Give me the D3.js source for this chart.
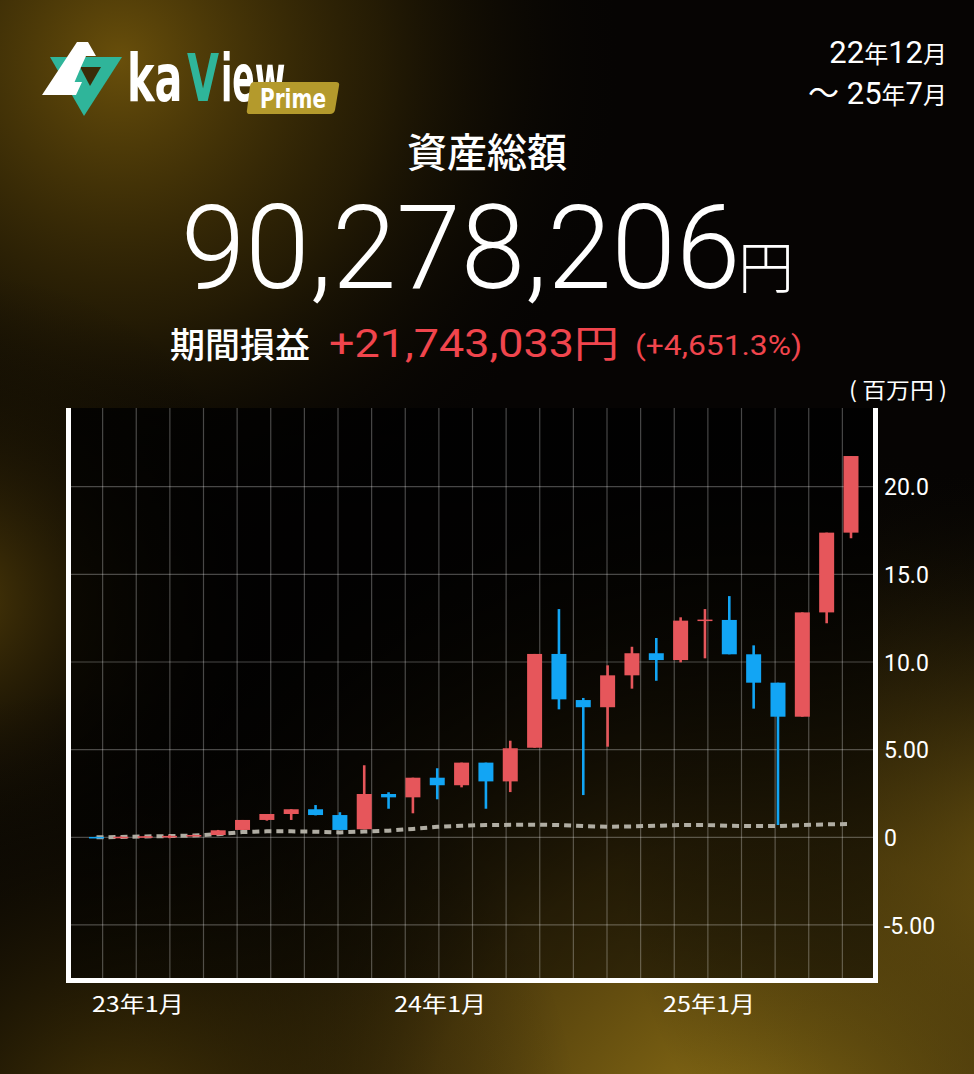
<!DOCTYPE html>
<html><head><meta charset="utf-8">
<script src="https://cdn.jsdelivr.net/npm/d3@7"></script>
<style>
html,body{margin:0;padding:0;background:#050403;}
svg{display:block;}
</style></head>
<body>
<svg id="chart" width="974" height="1074"></svg>
<script>
// ---- data ----
const months = ["22年12月","23年1月","23年2月","23年3月","23年4月","23年5月","23年6月","23年7月","23年8月","23年9月","23年10月","23年11月","23年12月",
  "24年1月","24年2月","24年3月","24年4月","24年5月","24年6月","24年7月","24年8月","24年9月","24年10月","24年11月","24年12月",
  "25年1月","25年2月","25年3月","25年4月","25年5月","25年6月","25年7月"];
const openVals  = [0.02,0.00,0.03,0.06,0.10,0.13,0.42,0.99,1.33,1.60,1.27,0.46,2.47,2.28,3.40,2.97,4.26,3.19,5.11,10.46,7.83,7.42,9.24,10.50,10.11,12.36,12.40,10.44,8.82,6.88,12.83,17.38];
const highVals  = [0.03,0.04,0.07,0.12,0.15,0.42,0.99,1.33,1.60,1.84,1.43,4.11,2.57,3.40,3.94,4.26,4.26,5.51,10.46,13.02,7.95,9.81,10.87,11.37,12.55,13.02,13.76,10.95,8.82,12.83,17.38,21.75];
const lowVals   = [-0.01,0.00,0.02,-0.05,0.08,0.12,0.42,0.95,0.99,1.25,0.42,0.46,1.63,1.37,2.17,2.85,1.63,2.58,5.11,7.30,2.41,5.17,8.48,8.93,9.98,10.21,10.44,7.34,0.70,6.88,12.21,17.06];
const closeVals = [0.00,0.03,0.06,0.08,0.13,0.40,0.99,1.33,1.60,1.27,0.42,2.47,2.28,3.40,2.97,4.26,3.19,5.08,10.46,7.87,7.42,9.24,10.50,10.11,12.36,12.42,10.44,8.82,6.88,12.83,17.38,21.75];
const depositVals = [0.00,0.02,0.05,0.07,0.10,0.18,0.30,0.34,0.34,0.32,0.28,0.33,0.38,0.48,0.60,0.66,0.70,0.71,0.72,0.70,0.64,0.60,0.62,0.66,0.70,0.70,0.66,0.64,0.64,0.70,0.74,0.76];
const yTickValues = [-5,0,5,10,15,20];
const yTickLabels = ["-5.00","0","5.00","10.0","15.0","20.0"];
const xTickLabels = ["23年1月","24年1月","25年1月"];
const xTickAt = [1.68,14.1,25.15];
const gridColumns = 24;

const totalAsset = "90,278,206";
const profit = "+21,743,033";
const profitPct = "(+4,651.3%)";

// ---- layout ----
const svg = d3.select("#chart");
const W = 974, H = 1074;
const plot = {l:69, r:876, t:408, b:980};

const defs = svg.append("defs");
function radial(id, cx, cy, r, stops){
  const g = defs.append("radialGradient").attr("id",id).attr("gradientUnits","userSpaceOnUse")
    .attr("cx",cx).attr("cy",cy).attr("r",r);
  stops.forEach(s=>g.append("stop").attr("offset",s[0]).attr("stop-color",s[1]).attr("stop-opacity",s[2]));
}
radial("g1",120,60,520,[[0,"#7a5c0c",0.85],[0.5,"#4a3806",0.45],[1,"#000",0]]);
radial("g2",760,1180,760,[[0,"#a08018",0.95],[0.45,"#6e5410",0.7],[1,"#000",0]]);
radial("g3",-40,600,330,[[0,"#6a500a",0.7],[1,"#000",0]]);
radial("g4",1040,860,420,[[0,"#7a6012",0.75],[1,"#000",0]]);
radial("g5",120,1140,460,[[0,"#5a4408",0.8],[1,"#000",0]]);
const lg = defs.append("linearGradient").attr("id","plotbg").attr("x1",0).attr("y1",0).attr("x2",0).attr("y2",1);
lg.append("stop").attr("offset",0).attr("stop-color","#000").attr("stop-opacity",0.8);
lg.append("stop").attr("offset",1).attr("stop-color","#000").attr("stop-opacity",0.5);

svg.append("rect").attr("width",W).attr("height",H).attr("fill","#060403");
["g1","g2","g3","g4","g5"].forEach(id=>svg.append("rect").attr("width",W).attr("height",H).attr("fill",`url(#${id})`));

// ---- logo ----
const logo = svg.append("g");
logo.append("polygon").attr("points","50,57 122,57 84,116").attr("fill","#2fb59a");
logo.append("polygon").attr("points","80,67 101,67 90,86").attr("fill","#3a2c07");
logo.append("polygon").attr("points","77,42 88,42 96,56 86,56 81,67 69,95 42,95").attr("fill","#ffffff");
logo.append("polygon").attr("points","55,95 76,95 82,82 69,82").attr("fill","#ffffff");
function logoText(t, xPos, sx, fill){
  logo.append("text").attr("transform",`translate(${xPos},101) scale(${sx},1.45)`)
    .attr("font-family","'DejaVu Sans'").attr("font-stretch","condensed").attr("font-weight","bold")
    .attr("font-size",46).attr("fill",fill).text(t);
}
logoText("ka",127,1.0,"#fff");
logoText("V",187,1.0,"#2fb59a");
logoText("iew",221,0.8,"#fff");
logo.append("path").attr("d","M254,82 L336,82 Q340,82 339,86 L335,110 Q334,114 330,114 L250,114 Q246,114 247,110 L250,86 Q251,82 254,82 Z").attr("fill","#b49a2c");
logo.append("text").attr("x",293).attr("y",108).attr("text-anchor","middle").attr("font-family","'DejaVu Sans'")
  .attr("font-stretch","condensed").attr("font-weight","bold").attr("font-size",26).attr("fill","#fff")
  .attr("textLength",66).attr("lengthAdjust","spacingAndGlyphs").text("Prime");

// ---- date range ----
const dateG = svg.append("g").attr("font-family","Roboto, 'Noto Sans CJK JP'").attr("fill","#fff").attr("text-anchor","end");
dateG.append("text").attr("x",947).attr("y",63).attr("font-size",31)
  .html('22<tspan font-size="24">年</tspan>12<tspan font-size="24">月</tspan>');
dateG.append("text").attr("x",947).attr("y",104).attr("font-size",31)
  .html('～ 25<tspan font-size="24">年</tspan>7<tspan font-size="24">月</tspan>');

// ---- headline ----
svg.append("text").attr("x",487).attr("y",167).attr("text-anchor","middle").attr("font-family","'Noto Sans CJK JP'")
  .attr("font-weight",500).attr("font-size",40).attr("fill","#fff").text("資産総額");
svg.append("text").attr("transform","translate(181,288) scale(1,1.01)").attr("font-family","Roboto").attr("font-weight",300)
  .attr("font-size",116).attr("fill","#fff").text(totalAsset);
svg.append("text").attr("x",738).attr("y",288).attr("font-family","'Noto Sans CJK JP'").attr("font-weight",300)
  .attr("font-size",56).attr("fill","#fff").text("円");

svg.append("text").attr("x",170).attr("y",358).attr("font-family","'Noto Sans CJK JP'").attr("font-weight",500)
  .attr("font-size",35).attr("fill","#fff").text("期間損益");
svg.append("text").attr("x",329).attr("y",357).attr("font-family","Roboto, 'Noto Sans CJK JP'").attr("font-weight",400)
  .attr("font-size",38).attr("fill","#f0454d").attr("textLength",290).attr("lengthAdjust","spacingAndGlyphs").text(profit+"円");
svg.append("text").attr("x",635).attr("y",355).attr("font-family","Roboto").attr("font-weight",400)
  .attr("font-size",28).attr("fill","#f0454d").attr("textLength",167).attr("lengthAdjust","spacingAndGlyphs").text(profitPct);

svg.append("text").attr("x",947).attr("y",398).attr("text-anchor","end").attr("font-family","'Noto Sans CJK JP'")
  .attr("font-size",22).attr("fill","#fff").attr("textLength",98).attr("lengthAdjust","spacingAndGlyphs").text("( 百万円 )");

// ---- chart ----
svg.append("rect").attr("x",plot.l).attr("y",plot.t).attr("width",plot.r-plot.l).attr("height",plot.b-plot.t).attr("fill","url(#plotbg)");

const y = d3.scaleLinear().domain([-8.14,24.49]).range([plot.b,plot.t]);
const x = d3.scaleLinear().domain([0,months.length-1]).range([96.5,851]);
const gx = d3.scaleLinear().domain([0,gridColumns]).range([plot.l,plot.r]);

const grid = svg.append("g").attr("stroke","#ffffff").attr("stroke-opacity",0.28).attr("stroke-width",1.2);
grid.selectAll("line.v").data(d3.range(1,gridColumns)).join("line").attr("class","v")
  .attr("x1",d=>gx(d)).attr("x2",d=>gx(d)).attr("y1",plot.t).attr("y2",plot.b);
grid.selectAll("line.h").data(yTickValues).join("line").attr("class","h")
  .attr("x1",plot.l).attr("x2",plot.r).attr("y1",d=>y(d)).attr("y2",d=>y(d));

const data = months.map((m,i)=>({m,i,o:openVals[i],h:highVals[i],l:lowVals[i],c:closeVals[i],dep:depositVals[i]}));
const RED="#e6565b", BLUE="#12a5f4";

// deposit dashed line
svg.append("path").datum(data).attr("fill","none").attr("stroke","#b0ada3").attr("stroke-width",4)
  .attr("stroke-dasharray","7,5")
  .attr("d",d3.line().x(d=>x(d.i)).y(d=>y(d.dep)));

const cg = svg.append("g").selectAll("g").data(data).join("g");
cg.append("line").attr("x1",d=>x(d.i)).attr("x2",d=>x(d.i)).attr("y1",d=>y(d.h)).attr("y2",d=>y(d.l))
  .attr("stroke",d=>d.c>=d.o?RED:BLUE).attr("stroke-width",2.6);
cg.append("rect").attr("x",d=>x(d.i)-7.5).attr("width",15)
  .attr("y",d=>y(Math.max(d.o,d.c)))
  .attr("height",d=>Math.max(1.5,Math.abs(y(d.o)-y(d.c))))
  .attr("fill",d=>d.c>=d.o?RED:BLUE);

// axes frame
const frame = svg.append("g").attr("stroke","#fff").attr("stroke-width",5);
frame.append("line").attr("x1",plot.l-0.5).attr("x2",plot.l-0.5).attr("y1",plot.t).attr("y2",plot.b+3);
frame.append("line").attr("x1",plot.r-0.5).attr("x2",plot.r-0.5).attr("y1",plot.t).attr("y2",plot.b+3);
frame.append("line").attr("x1",plot.l-3).attr("x2",plot.r+2).attr("y1",plot.b+0.5).attr("y2",plot.b+0.5);

// y axis labels
const yAxis = d3.axisRight(y).tickValues(yTickValues).tickSize(0).tickPadding(0)
  .tickFormat((d,i)=>yTickLabels[i]);
const ya = svg.append("g").attr("transform",`translate(${plot.r+8},0)`).call(yAxis);
ya.select(".domain").remove();
ya.selectAll("text").attr("fill","#fff").attr("font-family","Roboto").attr("font-size",23).attr("dy","0.36em");

// x axis labels
const xAxis = d3.axisBottom(x).tickValues(xTickAt).tickSize(0).tickPadding(0)
  .tickFormat((d,i)=>xTickLabels[i]);
const xa = svg.append("g").attr("transform",`translate(0,${plot.b+16})`).call(xAxis);
xa.select(".domain").remove();
xa.selectAll("text").attr("fill","#fff").attr("font-family","'Noto Sans CJK JP'").attr("font-size",22).attr("dy","0.71em")
  .attr("textLength",92).attr("lengthAdjust","spacingAndGlyphs");
</script>
</body></html>
